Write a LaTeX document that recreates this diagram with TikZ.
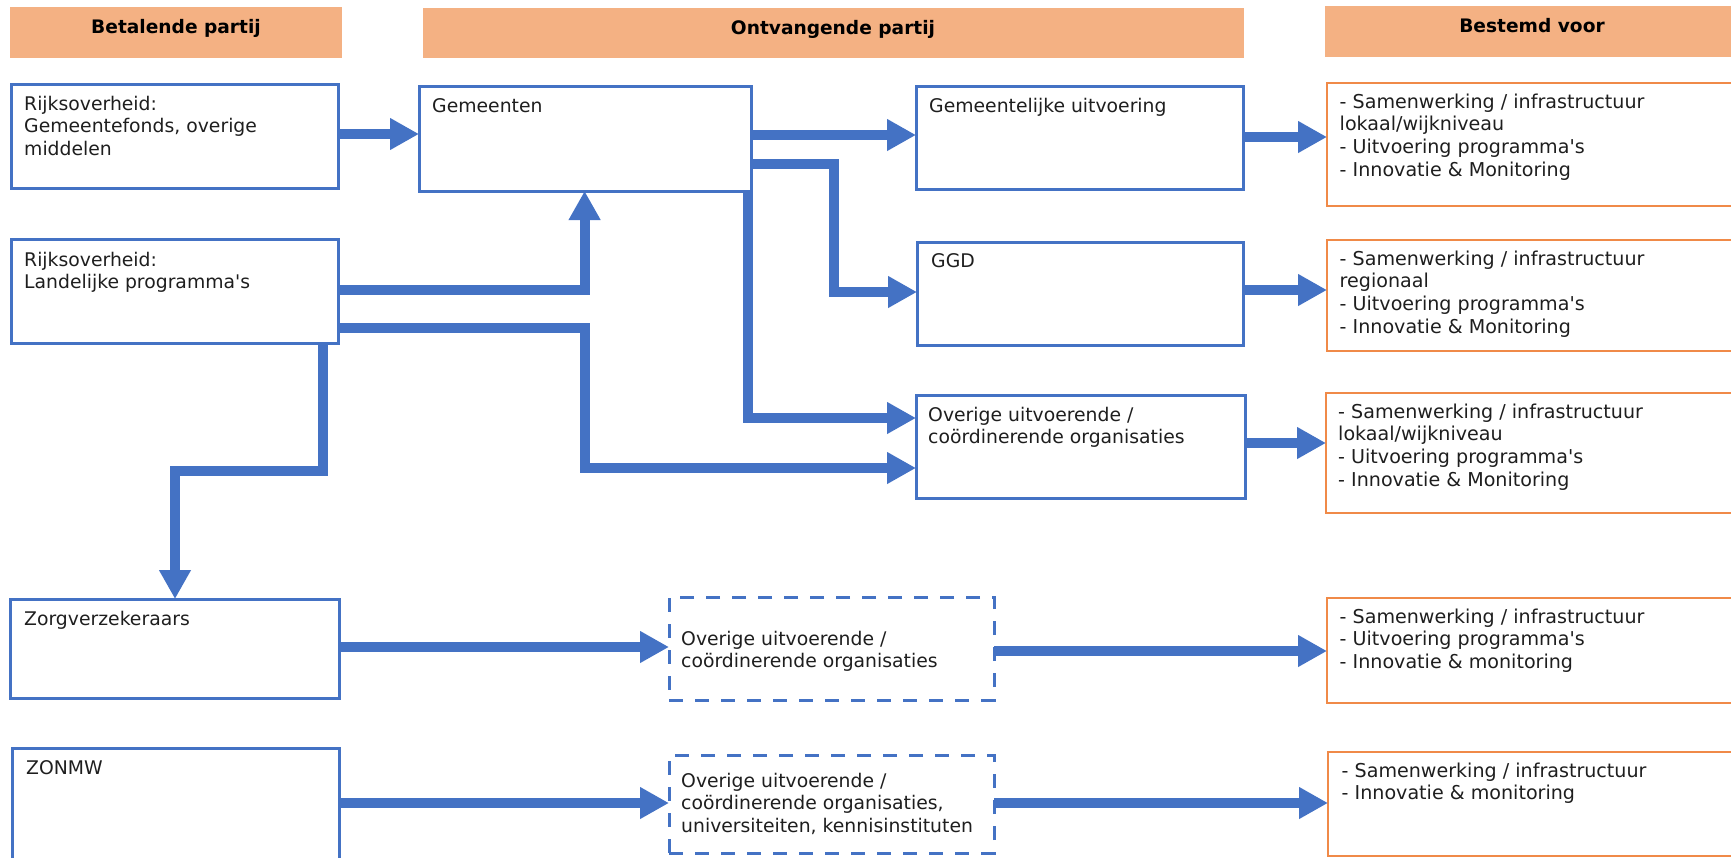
\documentclass[tikz,border=0pt]{standalone}
\usepackage{fontspec}
\newfontfamily\df{DejaVu Sans}
\usetikzlibrary{arrows.meta,fit}
\definecolor{myblue}{HTML}{4472C4}
\definecolor{hdr}{HTML}{F4B183}
\definecolor{myorange}{HTML}{F08A48}
\definecolor{txtc}{HTML}{1E1E1E}
\begin{document}
\begin{tikzpicture}[x=1pt,y=-1pt,
  bbox/.style={draw=myblue, line width=3pt, inner sep=0pt, outer sep=0pt, rectangle},
  dbox/.style={bbox, dash pattern=on 14pt off 12pt},
  obox/.style={draw=myorange, line width=1.6pt, inner sep=0pt, outer sep=0pt, rectangle},
  hdrbox/.style={fill=hdr, draw=none, inner sep=0pt, outer sep=0pt, rectangle},
  txt/.style={anchor=base west, inner sep=0pt, text=txtc, font=\df\fontsize{18.8pt}{22.7pt}\selectfont},
  rtxt/.style={txt, font=\df\fontsize{19.1pt}{22.7pt}\selectfont},
  htxt/.style={anchor=base, inner sep=0pt, text=black, font=\df\bfseries\fontsize{18.6pt}{22pt}\selectfont},
  flow/.style={draw=myblue, line width=10pt, line join=miter, -{Triangle[length=29pt,width=30pt]}}
]
\useasboundingbox (0,0) rectangle (1731,857);

% headers
\node[hdrbox, fit={(10,7)(342,58)}] (h1) {};
\node[hdrbox, fit={(423,8)(1244,58)}] (h2) {};
\node[hdrbox, fit={(1325,6)(1739,57)}] (h3) {};
\node[htxt] (h1t) at (176,33) {Betalende partij};
\node[htxt] (h2t) at (833,34) {Ontvangende partij};
\node[htxt] (h3t) at (1532,32) {Bestemd voor};

% blue boxes
\node[bbox, fit={(11,84)(338,188)}] (rijks1) {};
\node[bbox, fit={(419,86)(751,191)}] (gem) {};
\node[bbox, fit={(916,86)(1243,189)}] (gemuit) {};
\node[bbox, fit={(11,239)(338,343)}] (rijks2) {};
\node[bbox, fit={(917,242)(1243,345)}] (ggd) {};
\node[bbox, fit={(916,395)(1245,498)}] (over1) {};
\node[bbox, fit={(10,599)(339,698)}] (zorg) {};
\node[bbox, fit={(12,748)(339,880)}] (zonmw) {};
\node[dbox, fit={(669,597)(994,700)}] (dash1) {};
\node[dbox, fit={(669,755)(994,853)}] (dash2) {};

% orange boxes
\node[obox, fit={(1327,83)(1745,206)}] (best1) {};
\node[obox, fit={(1327,240)(1745,351)}] (best2) {};
\node[obox, fit={(1326,393)(1745,513)}] (best3) {};
\node[obox, fit={(1327,598)(1745,703)}] (best4) {};
\node[obox, fit={(1328,752)(1745,856)}] (best5) {};

% texts
\node[txt] (t1) at (24,110) {\parbox[t]{300pt}{Rijksoverheid:\\Gemeentefonds, overige\\middelen}};
\node[txt] (t2) at (432,112) {Gemeenten};
\node[txt] (t3) at (929,112) {Gemeentelijke uitvoering};
\node[txt] (t4) at (24,266) {\parbox[t]{300pt}{Rijksoverheid:\\Landelijke programma's}};
\node[txt] (t5) at (931,267) {GGD};
\node[txt] (t6) at (928,421) {\parbox[t]{310pt}{Overige uitvoerende /\\co\"ordinerende organisaties}};
\node[txt] (t7) at (24,625) {Zorgverzekeraars};
\node[txt] (t8) at (26,774) {ZONMW};
\node[txt] (t9) at (681,645) {\parbox[t]{310pt}{Overige uitvoerende /\\co\"ordinerende organisaties}};
\node[txt] (t10) at (681,787) {\parbox[t]{310pt}{Overige uitvoerende /\\co\"ordinerende organisaties,\\universiteiten, kennisinstituten}};
\node[rtxt] (t11) at (1339.5,108) {\parbox[t]{380pt}{- Samenwerking / infrastructuur\\lokaal/wijkniveau\\- Uitvoering programma's\\- Innovatie \& Monitoring}};
\node[rtxt] (t12) at (1339.5,265) {\parbox[t]{380pt}{- Samenwerking / infrastructuur\\regionaal\\- Uitvoering programma's\\- Innovatie \& Monitoring}};
\node[rtxt] (t13) at (1338,418) {\parbox[t]{380pt}{- Samenwerking / infrastructuur\\lokaal/wijkniveau\\- Uitvoering programma's\\- Innovatie \& Monitoring}};
\node[rtxt] (t14) at (1339.5,623) {\parbox[t]{380pt}{- Samenwerking / infrastructuur\\- Uitvoering programma's\\- Innovatie \& monitoring}};
\node[rtxt] (t15) at (1341.5,777) {\parbox[t]{380pt}{- Samenwerking / infrastructuur\\- Innovatie \& monitoring}};

% routing coordinates
\coordinate (yA) at (0,134);
\coordinate (yB) at (0,135);
\coordinate (yC) at (0,137);
\coordinate (yD) at (0,164);
\coordinate (xD) at (834,0);
\coordinate (yD2) at (0,292);
\coordinate (yE) at (0,290);
\coordinate (xE) at (584.6,0);
\coordinate (yF) at (0,328);
\coordinate (yG) at (0,468);
\coordinate (xH) at (748,0);
\coordinate (yH) at (0,418);
\coordinate (yK) at (0,443);
\coordinate (xI) at (323,0);
\coordinate (xJ) at (175,0);
\coordinate (yI) at (0,471);
\coordinate (yL) at (0,647);
\coordinate (yM) at (0,651);
\coordinate (yN) at (0,803);

% connectors
\draw[flow] (rijks1.east |- yA) -- (gem.west |- yA);
\draw[flow] (gem.east |- yB) -- (gemuit.west |- yB);
\draw[flow] (gemuit.east |- yC) -- (best1.west |- yC);
\draw[flow] (gem.east |- yD) -| (xD |- yD2) -- (ggd.west |- yD2);
\draw[flow] (ggd.east |- yE) -- (best2.west |- yE);
\draw[flow] (rijks2.east |- yE) -| (xE |- gem.south);
\draw[flow] (rijks2.east |- yF) -| (xE |- yG) -- (over1.west |- yG);
\draw[flow] (xH |- gem.south) |- (over1.west |- yH);
\draw[flow] (over1.east |- yK) -- (best3.west |- yK);
\draw[flow] (xI |- rijks2.south) |- (xJ |- yI) -- (xJ |- zorg.north);
\draw[flow] (zorg.east |- yL) -- (dash1.west |- yL);
\draw[flow] (dash1.east |- yM) -- (best4.west |- yM);
\draw[flow] (zonmw.east |- yN) -- (dash2.west |- yN);
\draw[flow] (dash2.east |- yN) -- (best5.west |- yN);
\end{tikzpicture}
\end{document}
